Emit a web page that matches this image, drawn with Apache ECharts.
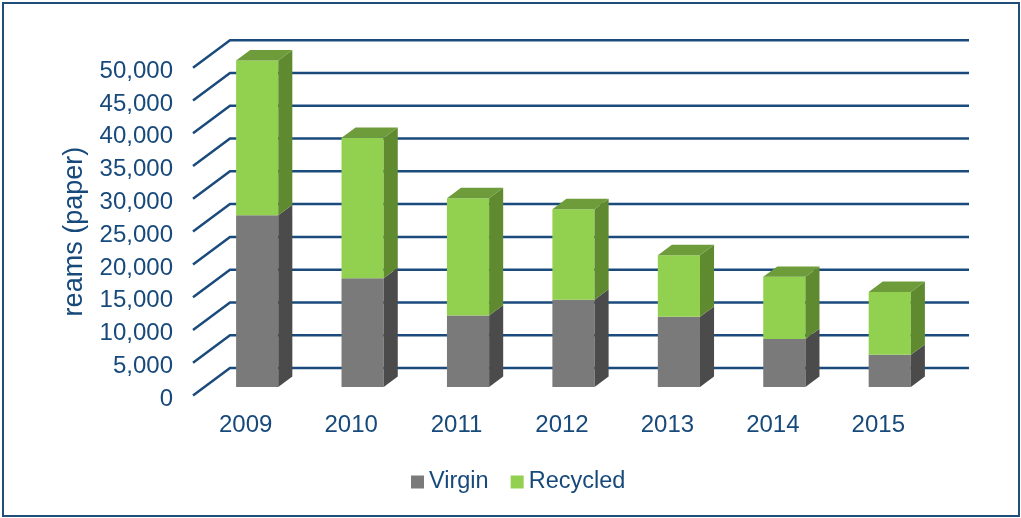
<!DOCTYPE html>
<html>
<head>
<meta charset="utf-8">
<script src="https://cdn.jsdelivr.net/npm/echarts@6/dist/echarts.min.js"></script>
<style>
html, body { margin: 0; padding: 0; background: #fff; }
#main { width: 1021px; height: 518px; }
</style>
</head>
<body>
<div id="main"></div>
<script>
// data
var years = ['2009', '2010', '2011', '2012', '2013', '2014', '2015'];
var virgin = [26200, 16600, 10900, 13300, 10700, 7300, 4900];
var recycled = [23600, 21400, 17900, 13800, 9400, 9500, 9600];
var yTicks = [0, 5000, 10000, 15000, 20000, 25000, 30000, 35000, 40000, 45000, 50000];

var textColor = '#17497b';
var lineColor = '#1b4b7c';
var fontName = "'Liberation Sans', Arial, sans-serif";

// fake 3d depth of the floor / back wall
var depthX = 37, depthY = 27.5;
var frontT = 0.31, barT = 0.38;

function addCommas(v) {
	return String(v).replace(/\B(?=(\d{3})+(?!\d))/g, ',');
}

// one block of a stacked 3d bar
function block(api, idx, lo, hi, colors, withTop) {
	var w = api.size([1, 0])[0] * 0.4;
	var pLo = api.coord([idx, lo]);
	var pHi = api.coord([idx, hi]);
	var fx = frontT * depthX, fy = -frontT * depthY;
	var bx = barT * depthX, by = -barT * depthY;
	var xl = pLo[0] - w / 2 + fx;
	var xr = pLo[0] + w / 2 + fx;
	var yb = pLo[1] + fy;
	var yt = pHi[1] + fy;
	var kids = [];
	kids.push({
		type: 'rect',
		shape: { x: xl, y: yt, width: xr - xl, height: yb - yt },
		style: { fill: colors[0] }
	});
	kids.push({
		type: 'polygon',
		shape: { points: [[xr, yt], [xr + bx, yt + by], [xr + bx, yb + by], [xr, yb]] },
		style: { fill: colors[1] }
	});
	if (withTop) {
		kids.push({
			type: 'polygon',
			shape: { points: [[xl, yt], [xl + bx, yt + by], [xr + bx, yt + by], [xr, yt]] },
			style: { fill: colors[2] }
		});
	}
	return kids;
}

var virginData = [];
var recycledData = [];
for (var i = 0; i < years.length; i++) {
	virginData.push([i, virgin[i]]);
	recycledData.push([i, virgin[i], recycled[i]]);
}
var gridData = yTicks.map(function (v) { return [0, v]; });

var myChart = echarts.init(document.getElementById('main'));
var option = {
	animation: false,
	textStyle: { fontFamily: fontName },
	grid: { left: 193, right: 90, top: 67.7, bottom: 122.5 },
	legend: {
		data: ['Virgin', 'Recycled'],
		left: 406,
		top: 465,
		icon: 'rect',
		itemWidth: 13,
		itemHeight: 13,
		itemGap: 22,
		textStyle: { fontSize: 23.5, color: textColor, fontFamily: fontName }
	},
	xAxis: {
		type: 'category',
		data: years,
		axisLine: { show: false },
		axisTick: { show: false },
		axisLabel: { fontSize: 24, color: textColor, margin: 18, fontFamily: fontName }
	},
	yAxis: {
		type: 'value',
		min: 0,
		max: 50000,
		interval: 5000,
		name: 'reams (paper)',
		nameLocation: 'middle',
		nameRotate: 90,
		nameGap: 105,
		nameTextStyle: { fontSize: 27, color: textColor, fontFamily: fontName },
		splitLine: { show: false },
		axisLine: { show: false },
		axisTick: { show: false },
		axisLabel: {
			fontSize: 24, color: textColor, margin: 20, fontFamily: fontName,
			verticalAlign: 'top',
			lineHeight: 7,
			formatter: function (v) { return addCommas(v); }
		}
	},
	graphic: [{
		type: 'rect',
		shape: { x: 3, y: 3, width: 1016, height: 513 },
		style: { fill: 'none', stroke: '#1f4e79', lineWidth: 2 },
		silent: true
	}],
	series: [{
		type: 'custom',
		name: 'walls',
		silent: true,
		z: 1,
		data: gridData,
		renderItem: function (params, api) {
			var p = api.coord([0, api.value(1)]);
			var x0 = params.coordSys.x;
			var x1 = params.coordSys.x + params.coordSys.width;
			return {
				type: 'polyline',
				shape: { points: [[x0, p[1]], [x0 + depthX, p[1] - depthY], [x1 + depthX + 1, p[1] - depthY]] },
				style: { stroke: lineColor, lineWidth: 2.5, fill: 'none' }
			};
		}
	}, {
		type: 'custom',
		name: 'Virgin',
		z: 2,
		itemStyle: { color: '#7a7a7a' },
		data: virginData,
		renderItem: function (params, api) {
			return {
				type: 'group',
				children: block(api, api.value(0), 0, api.value(1), ['#7a7a7a', '#4b4b4b'], false)
			};
		}
	}, {
		type: 'custom',
		name: 'Recycled',
		z: 3,
		itemStyle: { color: '#92d050' },
		data: recycledData,
		renderItem: function (params, api) {
			var lo = api.value(1);
			return {
				type: 'group',
				children: block(api, api.value(0), lo, lo + api.value(2), ['#92d050', '#5f8a30', '#6e9c3a'], true)
			};
		}
	}]
};
myChart.setOption(option);
</script>
</body>
</html>
